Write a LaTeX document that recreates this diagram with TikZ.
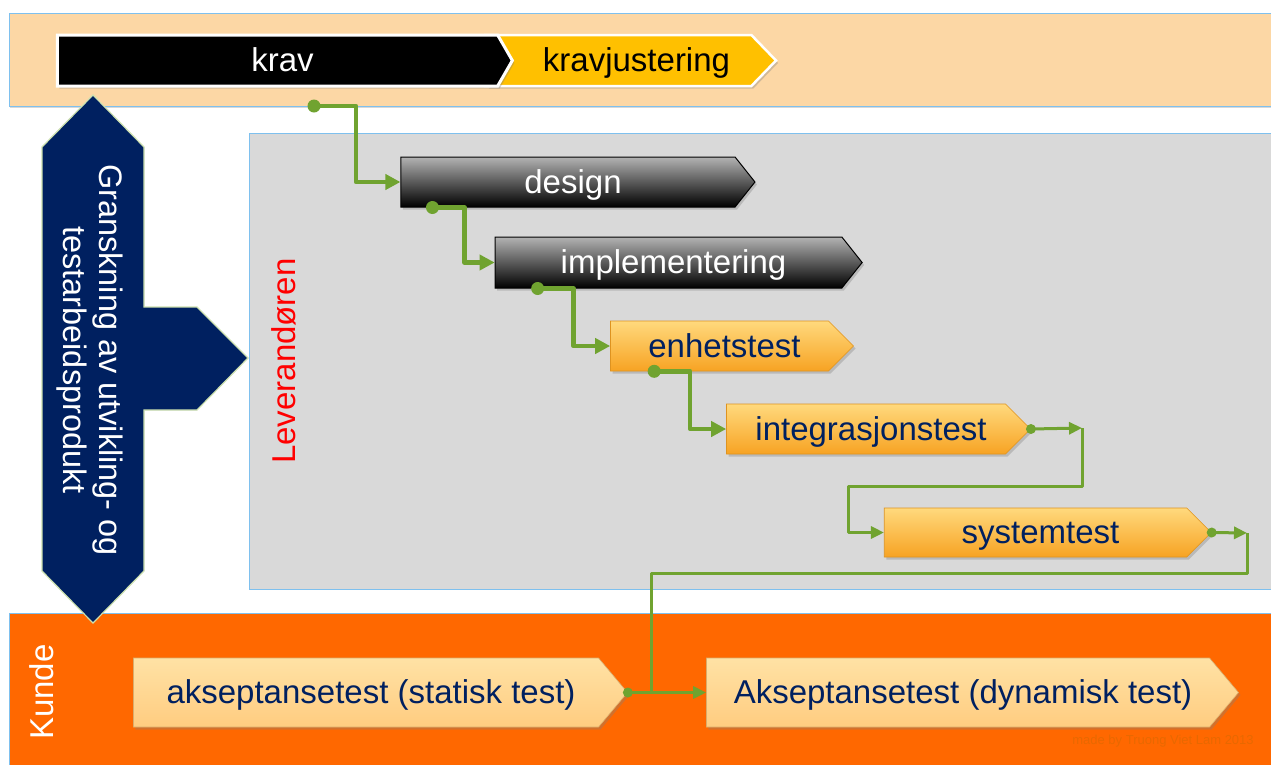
\documentclass[tikz,border=0pt]{standalone}
\usepackage{fontspec}
\setmainfont{Liberation Sans}
\usetikzlibrary{shapes.symbols,arrows.meta,shadows,calc}
\definecolor{peach}{RGB}{252,215,165}
\definecolor{bandline}{RGB}{126,192,238}
\definecolor{greybox}{RGB}{217,217,217}
\definecolor{orangeband}{RGB}{255,104,0}
\definecolor{navy}{RGB}{0,32,96}
\definecolor{navyedge}{RGB}{205,225,175}
\definecolor{gold}{RGB}{255,192,0}
\definecolor{connc}{RGB}{112,163,48}
\definecolor{otop}{RGB}{255,217,125}
\definecolor{obot}{RGB}{247,163,35}
\definecolor{ptop}{RGB}{255,226,165}
\definecolor{pbot}{RGB}{255,204,128}
\definecolor{txtnavy}{RGB}{0,32,96}
\definecolor{wmark}{RGB}{232,104,0}
\begin{document}
\begin{tikzpicture}[x=1pt,y=-1pt,
  lbl/.style={font=\fontsize{33}{36}\selectfont},
  chev/.style={signal, signal to=east, inner sep=0pt, lbl, text height=29pt, text depth=7pt,
    execute at begin node={\kern10pt},
    drop shadow={shadow xshift=2pt,shadow yshift=-2.5pt,opacity=0.35}},
  darkchev/.style={chev, draw=black, line width=1pt, top color=black!30, bottom color=black, text=white},
  orchev/.style={chev, draw=obot!90!black, line width=0.6pt, top color=otop, bottom color=obot, text=txtnavy},
  pchev/.style={chev, draw=pbot!85!black, line width=0.6pt, top color=ptop, bottom color=pbot, text=txtnavy},
  band/.style={draw=bandline, line width=1pt},
  conn/.style={draw=connc, line width=4.5pt, line join=round},
  connthin/.style={draw=connc, line width=3pt, line join=round},
  tipbig/.style={-{Triangle[length=15pt,width=15pt]}},
  tipsmall/.style={-{Triangle[length=13pt,width=12pt]}}
]
\useasboundingbox (0,0) rectangle (1271,764);
\fill[white] (0,0) rectangle (1271,764);

% bands
\path[band, fill=peach, drop shadow={shadow xshift=1pt,shadow yshift=-2pt,opacity=0.3}] (9,13) rectangle (1280,106);
\path[band, fill=greybox] (249,133) rectangle (1280,589);
\path[band, fill=orangeband] (9,613) rectangle (1280,770);

% lane labels
\node[lbl, text=red, rotate=90] (lev) at (284,361) {Leverandøren};
\node[lbl, text=white, rotate=90] (kunde) at (42,692) {Kunde};
\node[font=\fontsize{13}{15}\selectfont, text=wmark] (wm) at (1163,741) {made by Truong Viet Lam 2013};

% navy review arrow
\path[fill=navy, draw=navyedge, line width=1.2pt]
  (93,95) -- (144,147) -- (144,307) -- (197,307) -- (248,358) -- (197,410)
  -- (144,410) -- (144,571) -- (93,623) -- (42,571) -- (42,147) -- cycle;
\node[font=\fontsize{32.5}{36}\selectfont, text=white, rotate=-90, align=center, inner sep=0pt] (gran) at (90,360)
  {Granskning av utvikling- og\\testarbeidsprodukt};

% top phases
\node[chev, signal from=west, fill=gold, draw=white, line width=2.5pt, text=black,
  minimum width=289, minimum height=51, signal pointer angle=92] (kravj) at (631.5,60.5) {kravjustering};
\node[chev, fill=black, draw=white, line width=3pt, text=white,
  minimum width=455, minimum height=51, signal pointer angle=120] (krav) at (277.5,60.5) {krav};

% supplier phases
\node[darkchev, minimum width=354, minimum height=50, signal pointer angle=103] (design) at (568,182) {design};
\node[darkchev, minimum width=367, minimum height=51, signal pointer angle=103] (impl) at (668.5,262.5) {implementering};
\node[orchev, minimum width=243, minimum height=50, signal pointer angle=90] (enh) at (719.5,346) {enhetstest};
\node[orchev, minimum width=304, minimum height=50, signal pointer angle=90] (integ) at (866,429) {integrasjonstest};
\node[orchev, minimum width=327, minimum height=49, signal pointer angle=90] (sys) at (1035.5,532.5) {systemtest};

% customer phases
\node[pchev, minimum width=494, minimum height=69, signal pointer angle=100] (akS) at (366,692.5) {akseptansetest (statisk test)};
\node[pchev, minimum width=532, minimum height=69, signal pointer angle=100] (akD) at (958,692.5) {Akseptansetest (dynamisk test)};

% connector start points
\coordinate (s1) at (314,106);
\coordinate (s2) at ([xshift=32pt]design.south west);
\coordinate (s3) at ([xshift=43pt]impl.south west);
\coordinate (s4) at ([xshift=44pt]enh.south west);
\coordinate (c5a) at (1082,428);
\coordinate (c5b) at (848,486);
\coordinate (c6a) at (1247,533);
\coordinate (c6b) at (651,573);

\draw[conn, tipbig] (s1) -- ++(42,0) |- (design.west);
\draw[conn, tipbig] (s2) -- ++(32,0) |- (impl.west);
\draw[conn, tipbig] (s3) -- ++(36,0) |- (enh.west);
\draw[conn, tipbig] (s4) -- ++(36,0) |- (integ.west);
\foreach \p in {s1,s2,s3,s4} \fill[connc] (\p) circle (6.5pt);

\draw[connthin, tipsmall] (integ.east) -- (c5a);
\draw[connthin, tipsmall] (c5a) |- (c5b) |- (sys.west);
\draw[connthin, tipsmall] (sys.east) -- (c6a);
\draw[connthin] (c6a) |- (c6b) -- (c6b |- akS.east);
\draw[connthin, tipsmall] (akS.east) -- (akD.west);
\foreach \p in {integ.east,sys.east,akS.east} \fill[connc] (\p) circle (5pt);
\end{tikzpicture}
\end{document}
